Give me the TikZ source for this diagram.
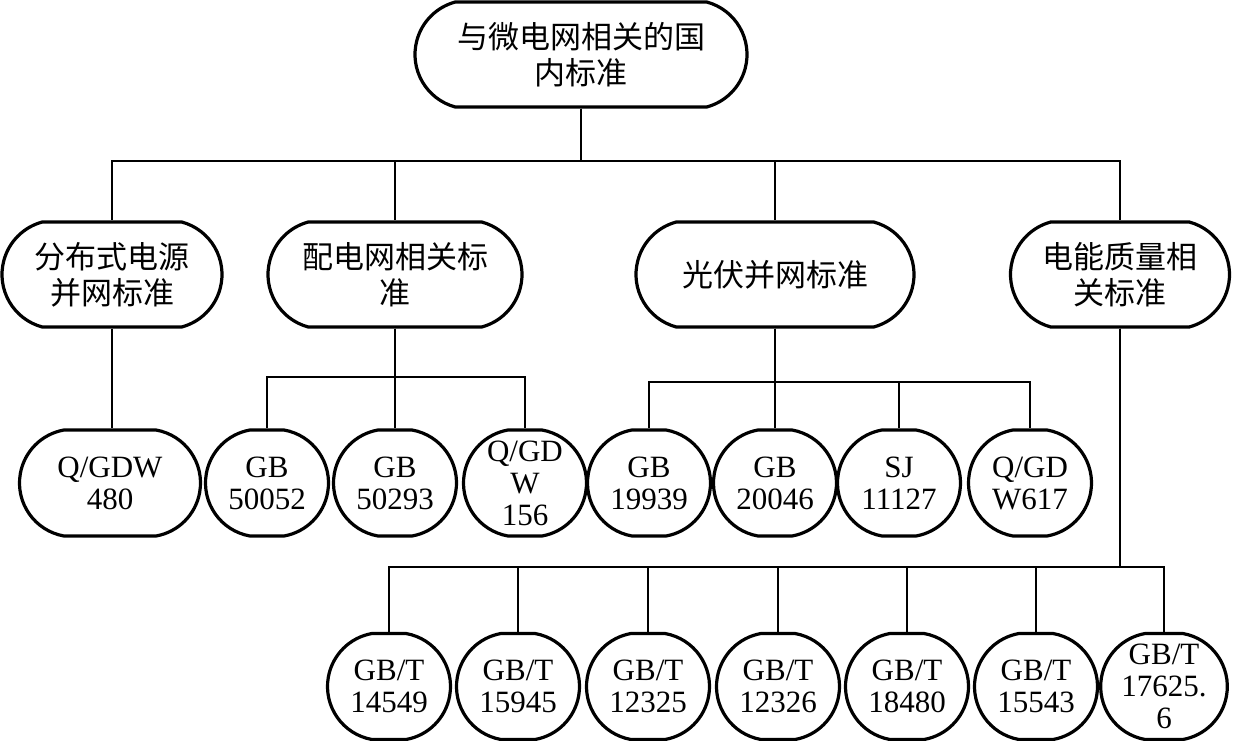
\documentclass[tikz,border=0pt]{standalone}
\usepackage{fontspec}
\usetikzlibrary{shapes.misc}
\setmainfont{Liberation Serif}
\newfontfamily\cjk{Noto Sans CJK SC}
\begin{document}
\begin{tikzpicture}[x=1pt,y=-1pt,
  cbox/.style={draw, rounded rectangle, rounded rectangle arc length=150, line width=3.2pt, align=center, inner sep=0pt,
    minimum height=105pt, font=\fontsize{31}{36}\selectfont\cjk},
  std/.style={draw, rounded rectangle, rounded rectangle arc length=160, line width=3.2pt, align=center, inner sep=0pt,
    minimum width=123pt, minimum height=106pt, font=\fontsize{31}{32}\selectfont},
  conn/.style={line width=1.6pt}]
\useasboundingbox (0,0) rectangle (1235,741);

% level 1
\node[cbox, minimum width=332pt] (top) at (581,54.5) {与微电网相关的国\\内标准};
% level 2
\node[cbox, minimum width=220pt] (fb) at (112,274.5) {分布式电源\\并网标准};
\node[cbox, minimum width=254pt] (pd) at (395,274.5) {配电网相关标\\准};
\node[cbox, minimum width=278pt] (gf) at (775,274.5) {光伏并网标准};
\node[cbox, minimum width=219pt] (dn) at (1120,274.5) {电能质量相\\关标准};
% level 3
\node[std, minimum width=181pt] (q480) at (110,483) {Q/GDW\\480};
\node[std] (g50052) at (267,483) {GB\\50052};
\node[std] (g50293) at (395,483) {GB\\50293};
\node[std] (q156) at (525,483) {Q/GD\\W\\156};
\node[std] (g19939) at (649,483) {GB\\19939};
\node[std] (g20046) at (775,483) {GB\\20046};
\node[std] (sj) at (899,483) {SJ\\11127};
\node[std] (q617) at (1030,483) {Q/GD\\W617};
% level 4
\node[std] (t14549) at (389,686.5) {GB/T\\14549};
\node[std] (t15945) at (518,686.5) {GB/T\\15945};
\node[std] (t12325) at (648,686.5) {GB/T\\12325};
\node[std] (t12326) at (778,686.5) {GB/T\\12326};
\node[std] (t18480) at (907,686.5) {GB/T\\18480};
\node[std] (t15543) at (1036,686.5) {GB/T\\15543};
\node[std] (t17625) at (1164,686.5) {GB/T\\17625.\\6};

% bus levels
\coordinate (bus1) at (0,161);
\coordinate (bus2) at (0,377);
\coordinate (bus3) at (0,382);
\coordinate (bus4) at (0,567);

\foreach \c in {fb,pd,gf,dn}
  \draw[conn] (top.south) |- (bus1 -| \c) -- (\c.north);
\draw[conn] (fb.south) -- (q480.north -| fb.south);
\foreach \c in {g50052,g50293,q156}
  \draw[conn] (pd.south) |- (bus2 -| \c) -- (\c.north);
\foreach \c in {g19939,g20046,sj,q617}
  \draw[conn] (gf.south) |- (bus3 -| \c) -- (\c.north);
\foreach \c in {t14549,t15945,t12325,t12326,t18480,t15543,t17625}
  \draw[conn] (dn.south) |- (bus4 -| \c) -- (\c.north);
\end{tikzpicture}
\end{document}
